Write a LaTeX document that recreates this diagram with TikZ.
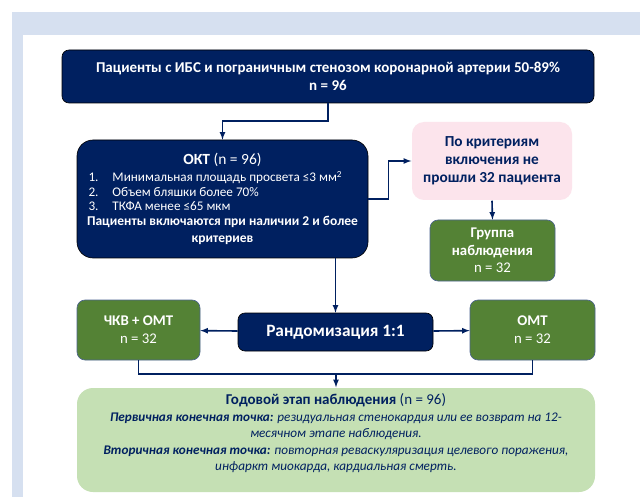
\documentclass[tikz,border=0pt]{standalone}
\usepackage{fontspec}
\setmainfont{Carlito}
\usetikzlibrary{positioning,calc,arrows}

\definecolor{navy}{RGB}{0,32,96}
\definecolor{leaf}{RGB}{84,130,53}
\definecolor{paleleaf}{RGB}{197,224,180}
\definecolor{rose}{RGB}{252,228,236}
\definecolor{frame}{RGB}{214,224,240}

\begin{document}
\begin{tikzpicture}[x=1pt,y=-1pt,>=latex,line width=1.5pt,
    navybox/.style={draw=black,line width=0.6pt,fill=navy,text=white,rounded corners=7pt,align=center,inner sep=2pt},
    greenbox/.style={draw=navy!70,line width=0.6pt,fill=leaf,text=white,rounded corners=8pt,align=center,inner sep=2pt},
    conn/.style={draw=navy,line width=1.6pt}]

\useasboundingbox (0,0) rectangle (640,497);
\fill[frame] (12,12) rectangle (640,497);
\fill[white] (23,35) rectangle (640,497);

\node[navybox,minimum width=532pt,minimum height=53pt,font=\fontsize{15}{18}\selectfont\bfseries] (top) at (328,76.5)
  {Пациенты с ИБС и пограничным стенозом коронарной артерии 50-89\%\\n = 96};

\node[navybox,minimum width=291pt,minimum height=118pt,rounded corners=16pt] (okt) at (222.5,199)
{\begin{minipage}{284pt}\fontsize{13.2}{14.4}\selectfont
  \centering{\fontsize{15.5}{18}\selectfont\textbf{ОКТ} (n = 96)}\par\vspace{4pt}
  {\raggedright\hspace*{8pt}\begin{tabular}{@{}p{24pt}@{}l@{}}
    1. & Минимальная площадь просвета ≤3 мм\textsuperscript{2}\\
    2. & Объем бляшки более 70\%\\
    3. & ТКФА менее ≤65 мкм
  \end{tabular}\par}
  {\fontsize{13.5}{17.5}\selectfont\textbf{Пациенты включаются при наличии 2 и более критериев}\par}
\end{minipage}};

\node[fill=rose,rounded corners=12pt,minimum width=160pt,minimum height=78pt,align=center,
      text=navy,font=\fontsize{15.3}{18}\selectfont\bfseries] (excl) at (492,161)
  {По критериям\\включения не\\прошли 32 пациента};

\node[greenbox,minimum width=125pt,minimum height=61pt,font=\fontsize{14.8}{17.5}\selectfont] (obs) at (492.5,250.5)
  {\textbf{Группа}\\\textbf{наблюдения}\\n = 32};

\node[navybox,minimum width=195pt,minimum height=38pt,font=\fontsize{17.3}{20}\selectfont\bfseries] (rand) at (335.5,332)
  {Рандомизация 1:1};

\node[greenbox,minimum width=123pt,minimum height=60pt,font=\fontsize{14.8}{18}\selectfont] (pci) at (138.5,330)
  {\textbf{ЧКВ + ОМТ}\\n = 32};
\node[greenbox,minimum width=125pt,minimum height=60pt,font=\fontsize{14.8}{18}\selectfont] (omt) at (532.5,330)
  {\textbf{ОМТ}\\n = 32};

\node[fill=paleleaf,rounded corners=16pt,minimum width=518pt,minimum height=104pt,text=navy,inner sep=0pt] (year) at (336,440)
{\begin{minipage}[c][100pt][t]{510pt}\centering
  \vspace*{4pt}
  {\fontsize{15}{18}\selectfont\textbf{Годовой этап наблюдения} (n = 96)\par}
  \fontsize{13.2}{16.5}\selectfont\itshape
  \textbf{Первичная конечная точка:} резидуальная стенокардия или ее возврат на 12-\\
  месячном этапе наблюдения.\par
  \textbf{Вторичная конечная точка:} повторная реваскуляризация целевого поражения,\\
  инфаркт миокарда, кардиальная смерть.\par
\end{minipage}};

% connectors
\draw[conn,->] (top.south) -- ++(0,18) -| (okt.north);
\draw[conn,->] (okt.east) -- ++(20,0) |- (excl.west);
\draw[conn,->] (excl.south) -- (obs.north);
\draw[conn,->] (okt.south -| rand.north) -- (rand.north);
\path (rand) edge [conn,->] (pci)
      (rand) edge [conn,->] (omt);

\coordinate (mid) at (336,374);
\draw[conn] (pci.south) |- (mid) -| (omt.south);
\draw[conn,->] (mid) -- (year.north);

\end{tikzpicture}
\end{document}
